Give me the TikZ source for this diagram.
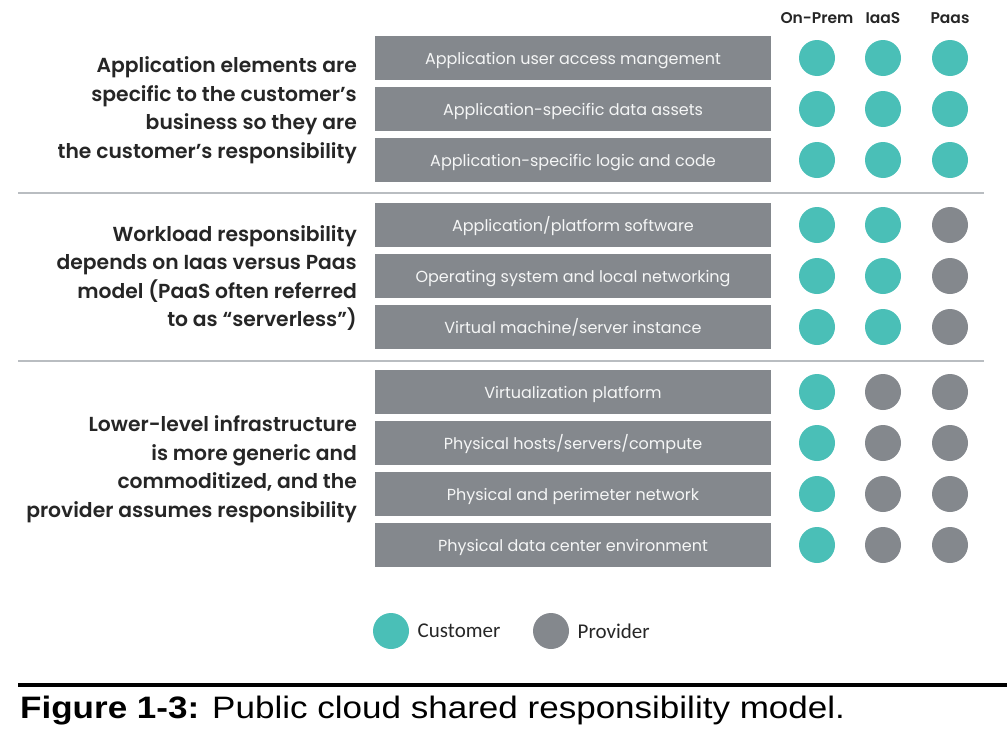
\documentclass[tikz,border=0pt]{standalone}
\usepackage{fontspec}
\setmainfont{Poppins}
\newfontfamily\notefont{Poppins SemiBold}
\newfontfamily\legendfont{Carlito}
\newfontfamily\capfont{Liberation Sans}
\usetikzlibrary{positioning}
\definecolor{teal}{HTML}{4ABFB7}
\definecolor{slate}{HTML}{84888D}
\definecolor{rulegray}{HTML}{B9BDC1}
\begin{document}
\begin{tikzpicture}[x=1pt,y=-1pt,
	layer/.style={rectangle,fill=slate,minimum width=396pt,minimum height=44pt,inner sep=0pt,text height=12pt,text depth=0pt,text=white!92!slate,font=\fontsize{16}{18}\selectfont},
	dot/.style={circle,minimum size=36pt,inner sep=0pt},
	cust/.style={dot,fill=teal},
	prov/.style={dot,fill=slate},
	head/.style={text=black!85,font=\notefont\fontsize{15.5}{17}\selectfont},
	note/.style={anchor=east,align=right,inner sep=0pt,text=black!85,font=\notefont\fontsize{20.3}{28.5}\selectfont}]
		\useasboundingbox (0,0) rectangle (1007,739);
		% column heads
		\node[head] (hon) at (817,18) {On-Prem};
		\node[head] (hia) at (883,18) {IaaS};
		\node[head] (hpa) at (950,18) {Paas};
		% layers with who is responsible in each model
		\foreach \y/\txt/\a/\b/\c [count=\i] in {
			58/Application user access mangement/cust/cust/cust,
			109/Application-specific data assets/cust/cust/cust,
			160/Application-specific logic and code/cust/cust/cust,
			225/Application\slash platform software/cust/cust/prov,
			276/Operating system and local networking/cust/cust/prov,
			327/Virtual machine\slash server instance/cust/cust/prov,
			392/Virtualization platform/cust/prov/prov,
			443/Physical hosts\slash servers\slash compute/cust/prov/prov,
			494/Physical and perimeter network/cust/prov/prov,
			545/Physical data center environment/cust/prov/prov}{
			\node[layer] (l\i) at (573,\y) {\txt};
			\node[\a] (on\i) at (817,\y) {};
			\node[\b] (ia\i) at (883,\y) {};
			\node[\c] (pa\i) at (950,\y) {};
		}
		% group separators
		\draw[rulegray,line width=1.8pt] (18,193) -- (984,193);
		\draw[rulegray,line width=1.8pt] (18,361) -- (984,361);
		% group notes
		\node[note] (n1) at (357,110) {Application elements are\\specific to the customer’s\\business so they are\\the customer’s responsibility};
		\node[note] (n2) at (357,278) {Workload responsibility\\depends on Iaas versus Paas\\model (PaaS often referred\\to as “serverless”)};
		\node[note] (n3) at (357,469) {Lower-level infrastructure\\is more generic and\\commoditized, and the\\provider assumes responsibility};
		% legend
		\node[cust] (kc) at (391,631) {};
		\node[right=5pt of kc,font=\legendfont\fontsize{21}{24}\selectfont,text=black!85] (kct) {Customer};
		\node[prov] (kp) at (551,631) {};
		\node[right=5pt of kp,font=\legendfont\fontsize{21}{24}\selectfont,text=black!85] (kpt) {Provider};
		% caption
		\draw[black,line width=3.5pt] (18,685) -- (1007,685);
		\node[anchor=base west,inner sep=0pt,font=\capfont\fontsize{31}{34}\selectfont] (cap) at (20,718) {\scalebox{1.13}[1]{\textbf{Figure 1-3:} Public cloud shared responsibility model.}};
\end{tikzpicture}
\end{document}
